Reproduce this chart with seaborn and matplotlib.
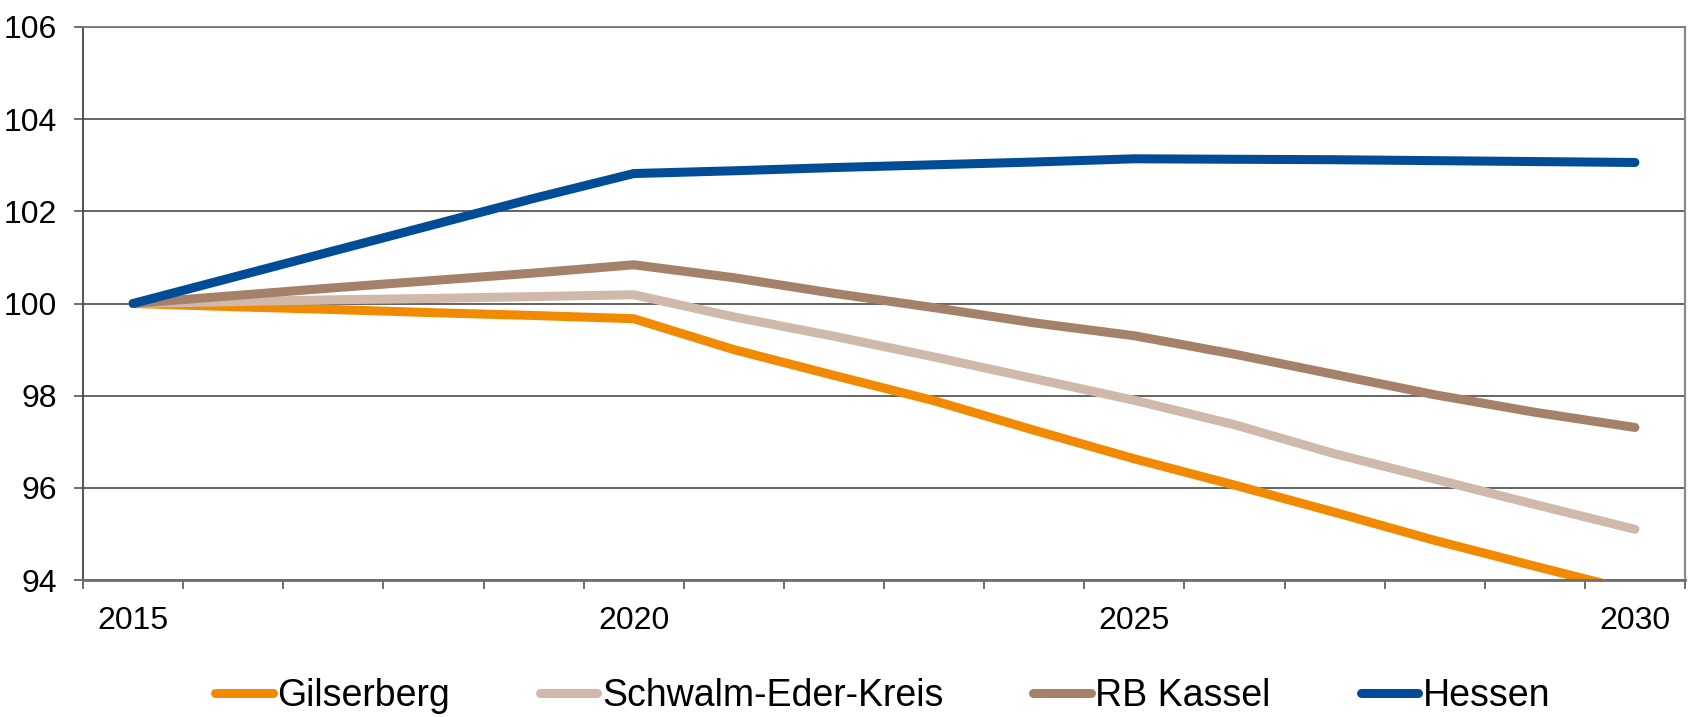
import matplotlib
matplotlib.use("Agg")
import matplotlib.pyplot as plt
import seaborn as sns
import pandas as pd
from matplotlib.ticker import FixedLocator, NullFormatter
from matplotlib.lines import Line2D

years = list(range(2015, 2031))
gilserberg = [100, 99.93, 99.87, 99.80, 99.74, 99.67, 99.00, 98.44, 97.89, 97.25,
              96.63, 96.06, 95.47, 94.86, 94.30, 93.75]
schwalm = [100, 100.04, 100.08, 100.11, 100.15, 100.19, 99.71, 99.29, 98.84, 98.37,
           97.90, 97.37, 96.74, 96.19, 95.64, 95.10]
rb_kassel = [100, 100.17, 100.34, 100.50, 100.66, 100.84, 100.56, 100.22, 99.91, 99.58,
             99.30, 98.90, 98.46, 98.02, 97.64, 97.31]
hessen = [100, 100.57, 101.14, 101.71, 102.28, 102.82, 102.88, 102.95, 103.01, 103.07,
          103.14, 103.13, 103.12, 103.10, 103.08, 103.06]

series_names = ["Gilserberg", "Schwalm-Eder-Kreis", "RB Kassel", "Hessen"]
series_values = [gilserberg, schwalm, rb_kassel, hessen]
colors = ["#F18A00", "#D0B9AB", "#A5816A", "#004C97"]
label_years = [2015, 2020, 2025, 2030]
y_ticks = [94, 96, 98, 100, 102, 104, 106]

rows = []
for name, vals in zip(series_names, series_values):
    for yr, v in zip(years, vals):
        rows.append({"Jahr": yr, "Wert": v, "Gebiet": name})
df = pd.DataFrame(rows)

sns.set_style("white")
plt.rcParams["font.family"] = ["Liberation Sans", "DejaVu Sans"]
plt.rcParams["lines.linewidth"] = 6.5

LW = 6.5
fig = plt.figure(figsize=(16.91, 7.17), dpi=100)
ax = fig.add_axes([83 / 1691, 1 - 580 / 717, (1685 - 83) / 1691, (580 - 27) / 717])

palette = dict(zip(series_names, colors))
sns.lineplot(data=df, x="Jahr", y="Wert", hue="Gebiet", hue_order=series_names,
             palette=palette, linewidth=LW, sort=False, legend=False, ax=ax,
             solid_capstyle="round", solid_joinstyle="round")
for ln in ax.lines:
    ln.set_linewidth(LW)
    ln.set_solid_capstyle("round")
    ln.set_solid_joinstyle("round")

ax.set_xlim(years[0] - 0.5, years[-1] + 0.5)
ax.set_ylim(94, 106)
ax.set_xlabel("")
ax.set_ylabel("")

# y axis
ax.set_yticks(y_ticks)
ax.set_yticklabels([str(t) for t in y_ticks])
ax.tick_params(axis="y", which="major", length=6.5, width=1.2, color="#555555",
               direction="out", left=True, labelsize=23, pad=12, labelcolor="black")
ax.yaxis.grid(True, color="#3a3a3a", linewidth=1.1)
ax.set_axisbelow(True)

# x axis: tick marks between categories, labels on the years
boundaries = [years[0] - 0.5 + k for k in range(len(years) + 1)]
ax.xaxis.set_major_locator(FixedLocator(boundaries))
ax.xaxis.set_major_formatter(NullFormatter())
ax.xaxis.set_minor_locator(FixedLocator(label_years))
ax.set_xticklabels([str(y) for y in label_years], minor=True)
ax.tick_params(axis="x", which="major", length=6.5, width=1.2, color="#555555",
               direction="out", bottom=True)
ax.tick_params(axis="x", which="minor", length=0, labelsize=23, pad=19,
               labelcolor="black")

for side in ["left", "right", "top", "bottom"]:
    ax.spines[side].set_visible(True)
ax.spines["left"].set_color("#444444")
ax.spines["left"].set_linewidth(1.3)
ax.spines["right"].set_color("#8a8a8a")
ax.spines["right"].set_linewidth(1.6)
ax.spines["top"].set_color("#7a7a7a")
ax.spines["top"].set_linewidth(1.3)
ax.spines["bottom"].set_color("#6f6f6f")
ax.spines["bottom"].set_linewidth(2.0)

handles = [Line2D([0], [0], color=c, linewidth=LW, solid_capstyle="round")
           for c in colors]
fig.legend(handles, series_names, loc="center", bbox_to_anchor=(0.522, 0.029),
           ncol=4, frameon=False, fontsize=27, handlelength=1.53,
           handletextpad=0.12, columnspacing=2.4, borderaxespad=0,
           labelcolor="black")

fig.savefig("out.png", dpi=100, facecolor="white")
